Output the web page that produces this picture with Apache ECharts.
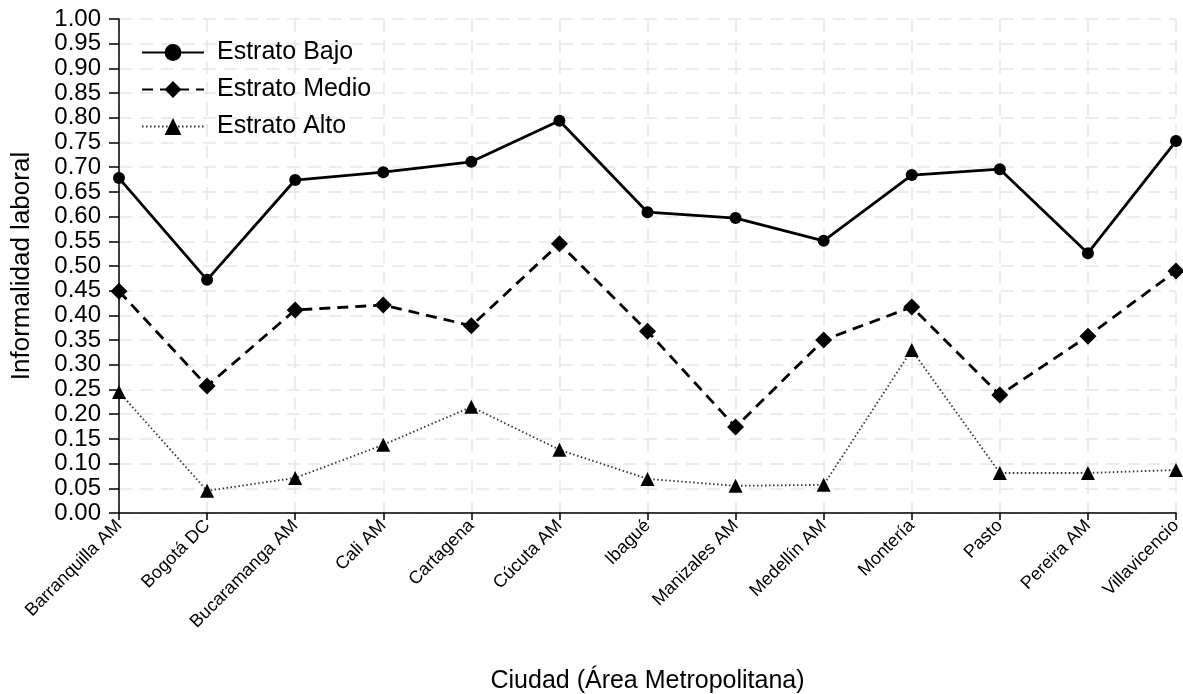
<!DOCTYPE html>
<html><head><meta charset="utf-8">
<script src="https://cdn.jsdelivr.net/npm/echarts@6/dist/echarts.min.js"></script>
<style>html,body{margin:0;padding:0;background:#fff}#c{width:1183px;height:694px}</style>
</head><body><div id="c"></div>
<script>
const categories = ['Barranquilla AM','Bogotá DC','Bucaramanga AM','Cali AM','Cartagena','Cúcuta AM','Ibagué','Manizales AM','Medellín AM','Montería','Pasto','Pereira AM','Villavicencio'];
const bajo  = [0.678,0.472,0.674,0.690,0.711,0.794,0.609,0.597,0.551,0.684,0.696,0.526,0.753];
const medio = [0.449,0.257,0.411,0.421,0.379,0.545,0.368,0.174,0.350,0.417,0.239,0.358,0.490];
const alto  = [0.245,0.045,0.071,0.138,0.215,0.128,0.069,0.055,0.057,0.330,0.081,0.081,0.087];
const seriesNames = ['Estrato Bajo','Estrato Medio','Estrato Alto'];

const font = 'Liberation Sans, Arial, sans-serif';
const chart = echarts.init(document.getElementById('c'));
chart.setOption({
  animation:false,
  textStyle:{fontFamily:font,color:'#000'},
  grid:{left:119,right:7,top:19,bottom:181,containLabel:false,outerBoundsMode:'none'},
  legend:{
    left:136, top:35, orient:'vertical', itemGap:12, itemWidth:62, itemHeight:21,
    textStyle:{fontFamily:font,fontSize:25,color:'#000',padding:[0,0,0,8]},
    data:seriesNames
  },
  xAxis:{
    type:'category', data:categories, boundaryGap:false,
    name:'Ciudad (Área Metropolitana)', nameLocation:'middle', nameGap:156,
    nameTextStyle:{fontFamily:font,fontSize:25,color:'#000'},
    axisLine:{lineStyle:{color:'#000',width:1.5}},
    axisTick:{alignWithLabel:true,length:7,lineStyle:{color:'#000',width:1.5}},
    axisLabel:{rotate:45,fontFamily:font,fontSize:18,color:'#000',margin:10,interval:0},
    splitLine:{show:true,lineStyle:{color:'#e6e6e6',type:[13,8],width:1.5}}
  },
  yAxis:{
    type:'value', min:0, max:1, interval:0.05,
    name:'Informalidad laboral', nameLocation:'middle', nameGap:84, nameRotate:90,
    nameTextStyle:{fontFamily:font,fontSize:26,color:'#000'},
    axisLine:{show:true,lineStyle:{color:'#000',width:1.5}},
    axisTick:{show:true,length:10,lineStyle:{color:'#000',width:1.5}},
    axisLabel:{fontFamily:font,fontSize:24,color:'#000',margin:18,lineHeight:24,
      showMinLabel:true,showMaxLabel:true,hideOverlap:false,formatter:v=>v.toFixed(2)},
    splitLine:{show:true,lineStyle:{color:'#e6e6e6',type:[13,8],width:1.5}}
  },
  series:[
    {name:seriesNames[0],type:'line',data:bajo,symbol:'circle',symbolSize:12,
     lineStyle:{color:'#000',width:2.8,type:'solid'},itemStyle:{color:'#000'}},
    {name:seriesNames[1],type:'line',data:medio,symbol:'diamond',symbolSize:17,
     lineStyle:{color:'#000',width:2.8,type:[11,7]},itemStyle:{color:'#000'}},
    {name:seriesNames[2],type:'line',data:alto,symbol:'triangle',symbolSize:14,
     lineStyle:{color:'#333',width:1.8,type:[1.5,2.5]},itemStyle:{color:'#000'}}
  ]
});
</script></body></html>
